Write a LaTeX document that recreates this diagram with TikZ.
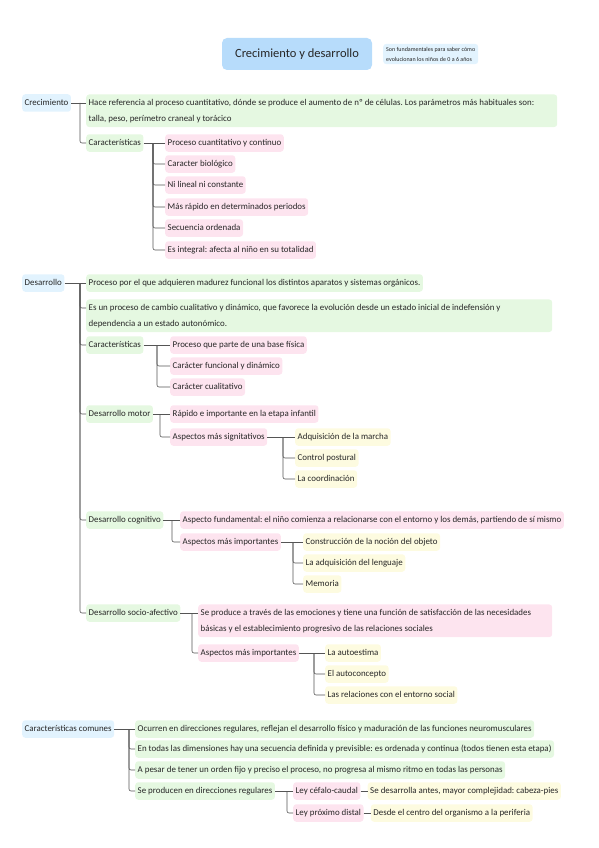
\documentclass[tikz,border=0pt]{standalone}
\usepackage{fontspec}
\setmainfont{Carlito}
\frenchspacing
\usetikzlibrary{positioning}
\definecolor{titazul}{HTML}{B7DCFB}
\definecolor{raizazul}{HTML}{E2F3FE}
\definecolor{verde}{HTML}{E5F8E1}
\definecolor{rosa}{HTML}{FDE4EF}
\definecolor{amarillo}{HTML}{FDFBE0}
\definecolor{linea}{HTML}{555555}
\definecolor{texto}{HTML}{262626}
\tikzset{
  mapa/.style={x=1pt, y=-1pt, font=\fontsize{8.9}{16}\selectfont, text=texto},
  cja/.style={rounded corners=3pt, inner xsep=2.5pt, inner ysep=4.5pt,
              text height=6.5pt, text depth=2pt, align=left, anchor=west},
  raiz/.style={cja, fill=raizazul},
  ver/.style={cja, fill=verde},
  ros/.style={cja, fill=rosa},
  ama/.style={cja, fill=amarillo},
  dos/.style={anchor=north west, align=flush left, text height=, text depth=},
  titulo/.style={rounded corners=5pt, fill=titazul, minimum width=150pt,
                 minimum height=32pt, font=\fontsize{12.5}{14}\selectfont},
  nota/.style={rounded corners=3pt, fill=raizazul, anchor=west, align=left,
               inner sep=3pt, font=\fontsize{6}{10}\selectfont},
  ln/.style={draw=linea, line width=0.6pt, rounded corners=2pt}
}
\begin{document}
\begin{tikzpicture}[mapa]
  \useasboundingbox (0,0) rectangle (599,848);

  \node[titulo] (tit) at (297,54) {Crecimiento y desarrollo};
  \node[nota] (nota) at (383,54) {Son fundamentales para saber cómo\\evolucionan los niños de 0 a 6 años};

  \node[raiz] (crec) at (22,103) {Crecimiento};
  \node[ver, dos, text width=466pt] (hace) at (86,94.25) {\mbox{Hace referencia al proceso cuantitativo, dónde se produce el aumento de nº de células. Los parámetros más habituales son:}\\talla, peso, perímetro craneal y torácico};
  \node[ver] (ccar) at (86,143) {Características};
  \node[ros] (c1) at (165,143) {Proceso cuantitativo y continuo};
  \node[ros] (c2) at (165,164) {Caracter biológico};
  \node[ros] (c3) at (165,185) {Ni lineal ni constante};
  \node[ros] (c4) at (165,207) {Más rápido en determinados periodos};
  \node[ros] (c5) at (165,228) {Secuencia ordenada};
  \node[ros] (c6) at (165,250) {Es integral: afecta al niño en su totalidad};
  \coordinate (tc) at (80,103);
  \coordinate (tcc) at (153,143);
  \draw[ln] (crec.east) -- (crec.east -| hace.west);
  \draw[ln] (tc) |- (ccar.west);
  \draw[ln] (ccar) -- (c1);
  \foreach \n in {c2,c3,c4,c5,c6} {\draw[ln] (tcc) |- (\n.west);}

  \node[raiz] (des) at (22,283) {Desarrollo};
  \node[ver] (dproc) at (86,283) {Proceso por el que adquieren madurez funcional los distintos aparatos y sistemas orgánicos.};
  \node[ver, dos, text width=461pt] (desun) at (86,299.25) {\mbox{Es un proceso de cambio cualitativo y dinámico, que favorece la evolución desde un estado inicial de indefensión y}\\dependencia a un estado autonómico.};
  \node[ver] (dcar) at (86,345) {Características};
  \node[ros] (dc1) at (170,345) {Proceso que parte de una base física};
  \node[ros] (dc2) at (170,366) {Carácter funcional y dinámico};
  \node[ros] (dc3) at (170,387) {Carácter cualitativo};
  \node[ver] (dmot) at (86,414) {Desarrollo motor};
  \node[ros] (dm1) at (170,414) {Rápido e importante en la etapa infantil};
  \node[ros] (dm2) at (170,437) {Aspectos más signitativos};
  \node[ama] (dm21) at (295,437) {Adquisición de la marcha};
  \node[ama] (dm22) at (295,458) {Control postural};
  \node[ama] (dm23) at (295,479) {La coordinación};
  \node[ver] (dcog) at (86,520) {Desarrollo cognitivo};
  \node[ros] (dg1) at (180,520) {Aspecto fundamental: el niño comienza a relacionarse con el entorno y los demás, partiendo de sí mismo};
  \node[ros] (dg2) at (180,542) {Aspectos más importantes};
  \node[ama] (dg21) at (303,542) {Construcción de la noción del objeto};
  \node[ama] (dg22) at (303,563) {La adquisición del lenguaje};
  \node[ama] (dg23) at (303,584) {Memoria};
  \node[ver] (dsoc) at (86,613) {Desarrollo socio-afectivo};
  \node[ros, dos, text width=349pt] (ds1) at (198,604.25) {\mbox{Se produce a través de las emociones y tiene una función de satisfacción de las necesidades}\\básicas y el establecimiento progresivo de las relaciones sociales};
  \node[ros] (ds2) at (198,653) {Aspectos más importantes};
  \node[ama] (ds21) at (325,653) {La autoestima};
  \node[ama] (ds22) at (325,674) {El autoconcepto};
  \node[ama] (ds23) at (325,695) {Las relaciones con el entorno social};

  \coordinate (td) at (80,283);
  \coordinate (tdc) at (157,345);
  \coordinate (tdm) at (160,414);
  \coordinate (tda) at (283,437);
  \coordinate (tdg) at (172,520);
  \coordinate (tdgi) at (293,542);
  \coordinate (tds) at (192,613);
  \coordinate (tdsi) at (314,653);
  \draw[ln] (des) -- (dproc);
  \foreach \n in {desun} {\draw[ln] (td) |- ([yshift=-8.75pt]\n.north west);}
  \foreach \n in {dcar,dmot,dcog,dsoc} {\draw[ln] (td) |- (\n.west);}
  \draw[ln] (dcar) -- (dc1);
  \foreach \n in {dc2,dc3} {\draw[ln] (tdc) |- (\n.west);}
  \draw[ln] (dmot) -- (dm1);
  \draw[ln] (tdm) |- (dm2.west);
  \draw[ln] (dm2) -- (dm21);
  \foreach \n in {dm22,dm23} {\draw[ln] (tda) |- (\n.west);}
  \draw[ln] (dcog) -- (dg1);
  \draw[ln] (tdg) |- (dg2.west);
  \draw[ln] (dg2) -- (dg21);
  \foreach \n in {dg22,dg23} {\draw[ln] (tdgi) |- (\n.west);}
  \draw[ln] (dsoc.east) -- (dsoc.east -| ds1.west);
  \draw[ln] (tds) |- (ds2.west);
  \draw[ln] (ds2) -- (ds21);
  \foreach \n in {ds22,ds23} {\draw[ln] (tdsi) |- (\n.west);}

  \node[raiz] (com) at (22,729) {Características comunes};
  \node[ver] (k1) at (135,729) {Ocurren en direcciones regulares, reflejan el desarrollo físico y maduración de las funciones neuromusculares};
  \node[ver] (k2) at (135,749) {En todas las dimensiones hay una secuencia definida y previsible: es ordenada y continua (todos tienen esta etapa)};
  \node[ver] (k3) at (135,770) {A pesar de tener un orden fijo y preciso el proceso, no progresa al mismo ritmo en todas las personas};
  \node[ver] (k4) at (135,791) {Se producen en direcciones regulares};
  \node[ros] (k41) at (293,791) {Ley céfalo-caudal};
  \node[ros] (k42) at (293,813) {Ley próximo distal};
  \node[ama, right=7pt of k41] (k411) {Se desarrolla antes, mayor complejidad: cabeza-pies};
  \node[ama, right=7pt of k42] (k421) {Desde el centro del organismo a la periferia};
  \coordinate (tk) at (129,729);
  \coordinate (tks) at (287,791);
  \draw[ln] (com) -- (k1);
  \foreach \n in {k2,k3,k4} {\draw[ln] (tk) |- (\n.west);}
  \draw[ln] (k4) -- (k41);
  \draw[ln] (tks) |- (k42.west);
  \draw[ln] (k41) -- (k411);
  \draw[ln] (k42) -- (k421);
\end{tikzpicture}
\end{document}
